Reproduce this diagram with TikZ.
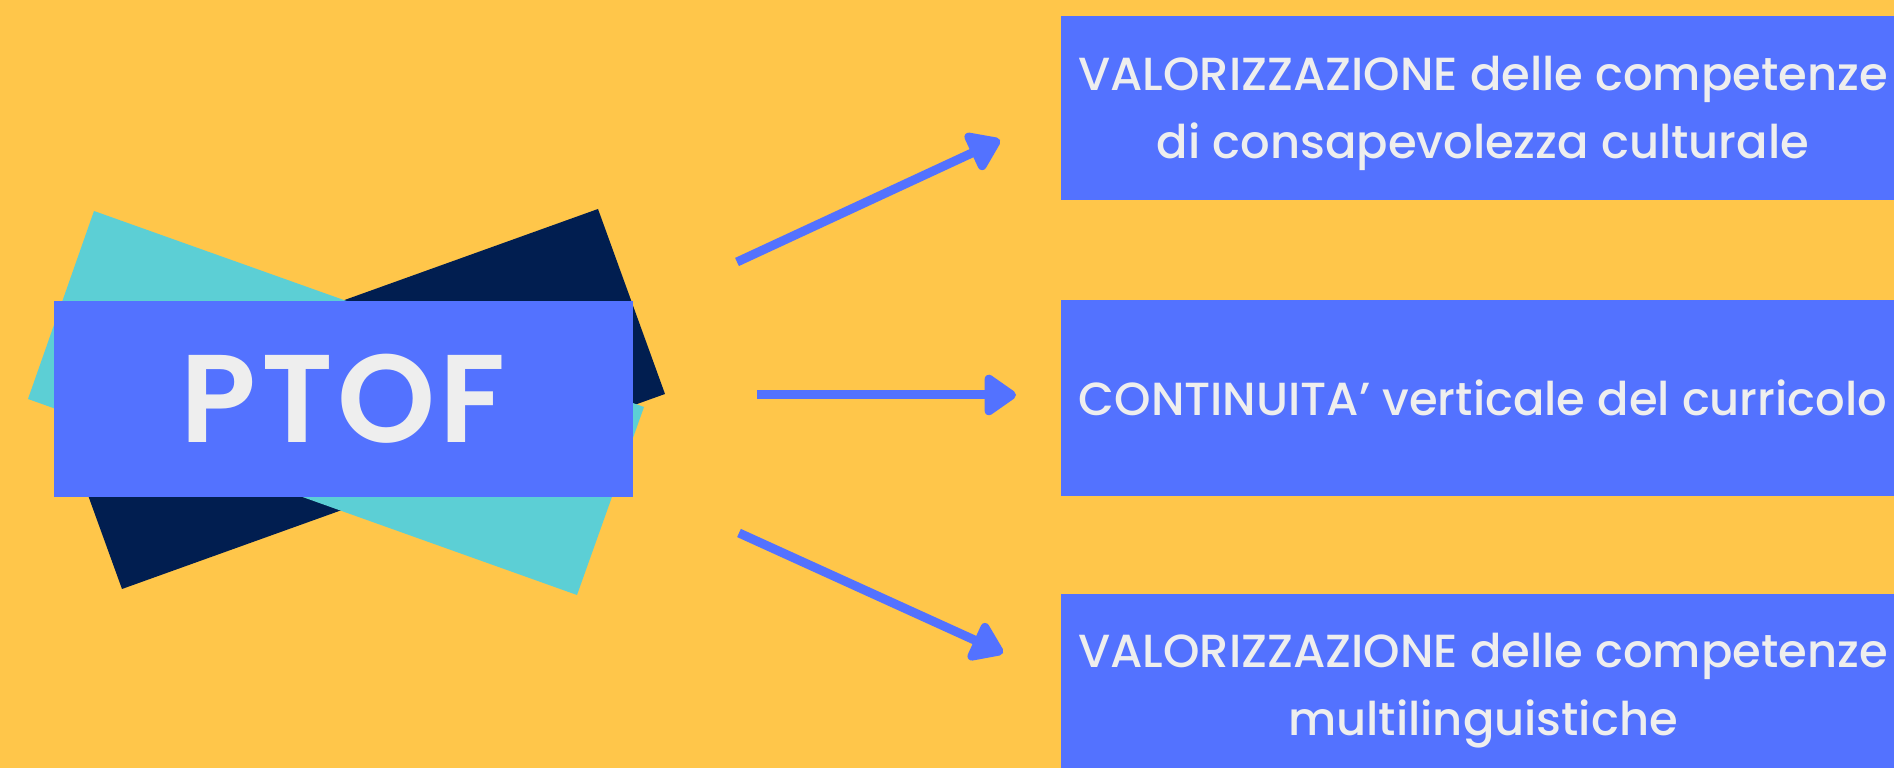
\documentclass[tikz,border=0pt]{standalone}
\usepackage{fontspec}
\setmainfont{Poppins Medium}
\newfontfamily\ptoffont{Poppins SemiBold}[LetterSpace=3.5]
\usetikzlibrary{arrows.meta}
\definecolor{bg}{HTML}{FFC64A}
\definecolor{boxblue}{HTML}{5372FF}
\definecolor{cyanr}{HTML}{5CCFD5}
\definecolor{navyr}{HTML}{011E50}
\definecolor{txt}{HTML}{EEEEEE}
\tikzset{
  rbox/.style={fill=boxblue, inner sep=0pt, minimum width=8.44cm},
  rtext/.style={text=txt, inner sep=0pt, align=center,
    font=\fontsize{13.2pt}{19.3pt}\selectfont},
  pbox/.style={fill=boxblue, text=txt, inner sep=0pt, minimum width=5.79cm, minimum height=1.96cm,
    font=\fontsize{35.5pt}{40pt}\ptoffont},
  arr/.style={draw=boxblue, line width=0.09cm, -{Triangle[length=0.35cm,width=0.46cm,round]}},
}
\begin{document}
\begin{tikzpicture}[x=0.01cm,y=-0.01cm]
\fill[bg] (0,0) rectangle (1894,768);
\useasboundingbox (0,0) rectangle (1894,768);
% decorative rotated cards
\fill[navyr] (598,209) -- (665,394) -- (122,589) -- (55,404) -- cycle;
\fill[cyanr] (94,211) -- (644,407) -- (577,595) -- (28,399) -- cycle;
% central node
\node[pbox] (ptof) at (343.5,399) {PTOF};
% right boxes
\node[rbox, minimum height=1.84cm] (b1) at (1483,108) {};
\node[rbox, minimum height=1.96cm] (b2) at (1483,398) {};
\node[rbox, minimum height=1.84cm] (b3) at (1483,686) {};
\node[rtext] (t1) at ([yshift=-0.05cm]b1.center) {VALORIZZAZIONE delle competenze\\di consapevolezza culturale};
\node[rtext] (t2) at (b2.center) {CONTINUITA’ verticale del curricolo};
\node[rtext] (t3) at ([yshift=-0.05cm]b3.center) {VALORIZZAZIONE delle competenze\\multilinguistiche};
% arrows
\coordinate (a1s) at (737,262);
\coordinate (a1e) at (1000,140);
\coordinate (a2s) at (757,395);
\coordinate (a2e) at (1016,395);
\coordinate (a3s) at (739,533);
\coordinate (a3e) at (1003,653);
\draw[arr] (a1s) -- (a1e);
\draw[arr] (a2s) -- (a2e);
\draw[arr] (a3s) -- (a3e);
\end{tikzpicture}
\end{document}
